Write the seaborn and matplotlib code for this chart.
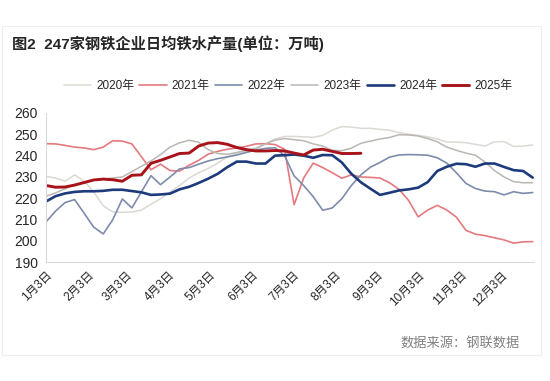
import numpy as np
import pandas as pd
import matplotlib
matplotlib.use("Agg")
import matplotlib.pyplot as plt
import seaborn as sns
from matplotlib.patches import Rectangle

# weekly data, week 0 = 1月3日
years = ["2020年", "2021年", "2022年", "2023年", "2024年", "2025年"]

v2020 = [230.3, 229.5, 228.0, 231.0, 228.0, 223.0, 216.5, 213.6, 213.4, 213.6,
         214.5, 217.2, 219.8, 223.0, 226.0, 229.5, 232.0, 234.0, 236.5, 239.5,
         241.0, 242.0, 243.0, 245.5, 247.8, 249.0, 249.0, 248.8, 248.6, 249.5,
         252.0, 253.6, 253.4, 252.8, 252.8, 252.3, 251.9, 250.8, 250.0, 249.5,
         248.8, 247.8, 246.4, 246.3, 246.1, 245.3, 244.5, 246.5, 246.6, 244.3,
         244.5, 245.0]
v2021 = [245.6, 245.5, 244.8, 244.0, 243.6, 242.8, 244.0, 247.0, 246.8, 245.5,
         239.5, 233.4, 236.0, 233.0, 232.8, 235.5, 237.8, 240.7, 242.0, 243.0,
         243.6, 244.4, 245.5, 245.6, 245.2, 243.0, 217.0, 229.5, 236.5, 234.4,
         232.0, 229.4, 231.0, 230.0, 229.8, 229.5, 227.3, 224.2, 219.0, 211.3,
         214.5, 216.7, 214.5, 211.2, 205.0, 203.2, 202.5, 201.5, 200.5, 199.0,
         199.6, 199.7]
v2022 = [208.9, 214.0, 218.0, 219.4, 213.0, 206.5, 203.3, 210.0, 219.7, 215.5,
         223.0, 230.6, 226.4, 230.0, 233.8, 234.4, 236.0, 237.5, 238.6, 239.4,
         240.3, 241.5, 242.6, 243.4, 243.7, 240.0, 230.5, 226.0, 220.8, 214.4,
         215.5, 219.8, 226.0, 231.0, 234.6, 236.8, 239.3, 240.3, 240.5, 240.4,
         240.2, 239.0, 236.5, 232.0, 227.0, 224.6, 223.4, 223.1, 221.6, 223.1,
         222.3, 222.7]
v2023 = [221.0, 222.5, 224.5, 226.4, 227.4, 228.5, 229.0, 229.5, 230.0, 232.5,
         235.0, 237.5, 240.5, 244.0, 246.0, 247.2, 246.3, 242.8, 241.0, 240.6,
         241.5, 242.5, 243.5, 245.5, 247.3, 248.0, 247.5, 247.0, 245.5, 244.5,
         242.5, 242.3, 243.5, 245.8, 246.8, 247.8, 248.5, 249.8, 249.7, 249.2,
         248.0, 246.5, 244.0, 242.5, 241.2, 240.2, 237.0, 233.0, 230.0, 227.8,
         227.3, 227.3]
v2024 = [218.5, 221.0, 222.3, 223.0, 223.3, 223.3, 223.5, 224.0, 224.0, 223.4,
         222.8, 221.6, 221.8, 222.2, 224.2, 225.4, 227.2, 229.2, 231.5, 234.6,
         237.2, 237.2, 236.3, 236.3, 240.0, 240.2, 240.5, 240.0, 239.0, 240.3,
         240.2, 236.8, 231.5, 227.5, 224.5, 221.6, 222.6, 223.7, 224.2, 225.0,
         227.6, 232.8, 234.8, 236.2, 236.0, 234.8, 236.3, 236.3, 234.7, 233.2,
         232.8, 229.7]
v2025 = [226.0, 225.2, 225.3, 226.2, 227.4, 228.6, 229.0, 228.7, 228.0, 230.8,
         231.0, 236.4, 237.8, 239.4, 241.0, 241.2, 244.5, 245.9, 246.1, 245.3,
         243.8, 242.8, 242.2, 242.2, 242.4, 242.2, 241.2, 240.3, 242.6, 243.0,
         242.0, 241.0, 241.0, 241.1]

values = [v2020, v2021, v2022, v2023, v2024, v2025]
colors = ["#dcd8d3", "#e5797d", "#7d8cab", "#bab7b3", "#1c3a7c", "#a8121a"]
widths = [1.1, 1.2, 1.2, 1.1, 1.9, 2.1]

y_ticks = [190, 200, 210, 220, 230, 240, 250, 260]

rows = []
for name, vals in zip(years, values):
    for k, v in enumerate(vals):
        rows.append({"day": 7 * k, "year": name, "value": v})
df = pd.DataFrame(rows)

base = pd.Timestamp("2025-01-03")
month_ticks = pd.date_range("2025-01-01", periods=12, freq="MS") + pd.Timedelta(days=2)
tick_pos = [(d - base).days for d in month_ticks]
tick_lab = [f"{d.month}月3日" for d in month_ticks]

sns.set_style("white")
plt.rcParams["font.family"] = ["Liberation Sans", "Noto Sans CJK SC", "DejaVu Sans"]

fig = plt.figure(figsize=(5.5, 3.81), dpi=100)
ax = fig.add_axes([0.0836, 0.3115, 0.8874, 0.392])

for name, col, lw in zip(years, colors, widths):
    sns.lineplot(data=df[df["year"] == name], x="day", y="value", color=col,
                 linewidth=lw, label=name, ax=ax)

ax.set_xlim(0, 358)
ax.set_ylim(190, 260)
ax.set_yticks(y_ticks)
ax.set_xticks(tick_pos)
ax.set_xticklabels(tick_lab, rotation=45, ha="right", rotation_mode="anchor", fontsize=8.5)
ax.tick_params(axis="y", labelsize=10, length=3, color="#d9d9d9", pad=3)
ax.tick_params(axis="x", length=3, color="#d9d9d9", pad=2)
ax.set_xlabel("")
ax.set_ylabel("")
for s in ["top", "right"]:
    ax.spines[s].set_visible(False)
for s in ["left", "bottom"]:
    ax.spines[s].set_color("#d9d9d9")
    ax.spines[s].set_linewidth(0.8)

handles, labels = ax.get_legend_handles_labels()
ax.get_legend().remove()
fig.legend(handles, labels, loc="center", bbox_to_anchor=(0.524, 0.774), ncol=6,
           frameon=False, fontsize=8.5, handlelength=2.3, columnspacing=0.45,
           handletextpad=0.45)

fig.text(0.022, 0.885, "图2  247家钢铁企业日均铁水产量(单位：万吨)", fontsize=11,
         fontweight="bold", ha="left", va="center")
fig.text(0.945, 0.098, "数据来源：钢联数据", fontsize=9.5, color="#808080",
         ha="right", va="center")

fig.patches.append(Rectangle((0.004, 0.068), 0.98, 0.864, transform=fig.transFigure,
                             fill=False, edgecolor="#eeeeee", linewidth=0.8))

fig.savefig("out.png", dpi=100)
